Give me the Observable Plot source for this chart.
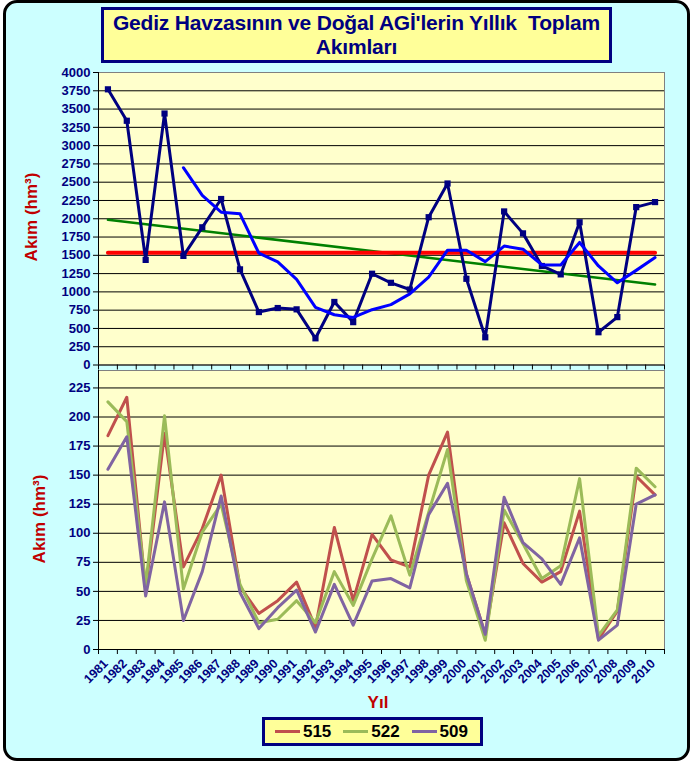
<!DOCTYPE html>
<html><head><meta charset="utf-8">
<script src="https://cdn.jsdelivr.net/npm/d3@7"></script>
<script src="https://cdn.jsdelivr.net/npm/@observablehq/plot@0.6"></script>
<style>
body{margin:0;background:#fff;font-family:Arial,"Liberation Sans",sans-serif;}
#page{position:relative;width:693px;height:764px;overflow:hidden;}
#frame{position:absolute;left:3px;top:0;width:687px;height:761px;box-sizing:border-box;border:3px solid #000;border-radius:14px;background:#CCFFFF;}
#title{position:absolute;left:101px;top:7px;width:511px;height:56px;box-sizing:border-box;border:3px solid #000080;background:#FFFF99;color:#000080;font-weight:bold;font-size:21px;text-align:center;line-height:24px;padding-top:1px;letter-spacing:-0.2px;}
.ytitle{position:absolute;color:#C00000;font-weight:bold;font-size:17px;transform:translate(-50%,-50%) rotate(-90deg);white-space:nowrap;}
#xtitle{position:absolute;left:378px;top:703px;transform:translate(-50%,-50%);color:#C00000;font-weight:bold;font-size:17px;}
#legend{position:absolute;left:262px;top:717px;width:221px;height:29px;box-sizing:border-box;border:3px solid #000080;background:#FFFF99;display:flex;align-items:center;padding-left:10px;}
#legend .sw{display:inline-block;width:27px;height:3px;margin-right:3px;}
#legend .lb{font-weight:bold;font-size:17px;color:#000;margin-right:12px;}
.chart{position:absolute;left:0;}
</style></head>
<body>
<div id="page">
  <div id="frame"></div>
  <div id="title">Gediz Havzasının ve Doğal AGİ'lerin Yıllık&nbsp; Toplam<br>Akımları</div>
  <div id="c1" class="chart" style="top:60px"></div>
  <div id="c2" class="chart" style="top:370px"></div>
  <div class="ytitle" style="left:32px;top:217px">Akım (hm³)</div>
  <div class="ytitle" style="left:40px;top:519px">Akım (hm³)</div>
  <div id="xtitle">Yıl</div>
  <div id="legend"></div>
</div>
<script>
// ---- data ----
const years = [1981,1982,1983,1984,1985,1986,1987,1988,1989,1990,1991,1992,1993,1994,1995,1996,1997,1998,1999,2000,2001,2002,2003,2004,2005,2006,2007,2008,2009,2010];
const akim = [3770,3340,1437,3439,1492,1883,2270,1308,724,779,761,365,862,586,1248,1124,1032,2021,2482,1179,379,2100,1800,1354,1239,1952,448,655,2159,2228];
const maYears = years.slice(4);
const hareketliOrt = [2698,2320,2090,2067,1529,1409,1170,788,687,650,756,825,972,1202,1570,1570,1414,1626,1584,1368,1368,1676,1354,1124,1294,1469];
const ortalama = 1535;
const trendUclar = [1985, 1100];
const s515 = [184,217,52,186,71,104,150,54,31,42,58,19,105,42,99,77,71,150,187,65,13,109,74,58,67,119,9,33,149,133];
const s522 = [213,196,55,201,52,101,125,56,23,26,42,23,67,38,78,115,64,118,172,59,8,120,91,61,72,147,12,34,156,140];
const s509 = [155,183,46,127,25,67,132,49,18,36,51,15,56,21,59,61,53,116,143,65,13,131,92,78,56,96,8,21,125,133];
const seriesNames = ["515","522","509"];
const seriesColors = ["#C0504D","#9BBB59","#8064A2"];
const yTicksTop = [0,250,500,750,1000,1250,1500,1750,2000,2250,2500,2750,3000,3250,3500,3750,4000];
const yTicksBottom = [0,25,50,75,100,125,150,175,200,225];

// ---- derived tables ----
const firstYear = years[0], lastYear = years[years.length-1];
const xDomain = [firstYear-0.5, lastYear+0.5];
const bounds = years.map(y => y-0.5).concat([lastYear+0.5]);
const akimData = years.map((x,i) => ({x, y: akim[i]}));
const maData = maYears.map((x,i) => ({x, y: hareketliOrt[i]}));
const ortData = [{x:firstYear, y:ortalama},{x:lastYear, y:ortalama}];
const trendData = [{x:firstYear, y:trendUclar[0]},{x:lastYear, y:trendUclar[1]}];
const allSeries = [s515,s522,s509];
const longData = allSeries.flatMap((s,k) => years.map((x,i) => ({x, y:s[i], seri:seriesNames[k]})));

const baseStyle = {background:"transparent", overflow:"visible", fontFamily:"Arial, 'Liberation Sans', sans-serif", fontWeight:"bold", fontSize:"13px", color:"#000080"};
const plain = d => String(d);

const chartTop = Plot.plot({
  width:693, height:310, marginLeft:98, marginRight:29, marginTop:12, marginBottom:5.5,
  x:{domain:xDomain, axis:null},
  y:{domain:[0,4000], axis:null},
  style: baseStyle,
  marks:[
    Plot.frame({fill:"#FFFFCC", stroke:"#808080"}),
    Plot.ruleY(yTicksTop.filter(d => d>0 && d<4000), {stroke:"#000", strokeWidth:1}),
    Plot.ruleX([xDomain[0]], {stroke:"#000"}),
    Plot.ruleY([0], {stroke:"#000"}),
    Plot.axisY({ticks:yTicksTop, tickSize:5, tickPadding:3, tickFormat:plain, label:null, stroke:"#000", fill:"#000080", fontSize:13}),
    Plot.axisX({ticks:bounds, tickSize:5, tickFormat:() => "", label:null, stroke:"#000"}),
    Plot.line(trendData, {x:"x", y:"y", stroke:"#008000", strokeWidth:2.5}),
    Plot.line(ortData, {x:"x", y:"y", stroke:"#FF0000", strokeWidth:4}),
    Plot.line(akimData, {x:"x", y:"y", stroke:"#000080", strokeWidth:3}),
    Plot.dot(akimData, {x:"x", y:"y", symbol:"square", fill:"#000080", r:3.5}),
    Plot.line(maData, {x:"x", y:"y", stroke:"#0000FF", strokeWidth:3})
  ]
});
document.getElementById("c1").appendChild(chartTop);

const chartBottom = Plot.plot({
  width:693, height:330, marginLeft:98, marginRight:29, marginTop:0, marginBottom:51,
  x:{domain:xDomain, axis:null},
  y:{domain:[0,240], axis:null},
  color:{domain:seriesNames, range:seriesColors},
  style: baseStyle,
  marks:[
    Plot.frame({fill:"#FFFFCC", stroke:"#808080"}),
    Plot.ruleY(yTicksBottom.filter(d => d>0), {stroke:"#000", strokeWidth:1}),
    Plot.ruleX([xDomain[0]], {stroke:"#000"}),
    Plot.ruleY([0], {stroke:"#000"}),
    Plot.axisY({ticks:yTicksBottom, tickSize:5, tickPadding:3, tickFormat:plain, label:null, stroke:"#000", fill:"#000080", fontSize:13}),
    Plot.axisX({ticks:bounds, tickSize:5, tickFormat:() => "", label:null, stroke:"#000"}),
    Plot.axisX({ticks:years, tickSize:0, tickPadding:12, tickRotate:-45, tickFormat:plain, label:null, fill:"#000080", fontSize:12.5, dx:-2}),
    Plot.line(longData, {x:"x", y:"y", z:"seri", stroke:"seri", strokeWidth:3})
  ]
});
document.getElementById("c2").appendChild(chartBottom);

// legend
const lg = document.getElementById("legend");
seriesNames.forEach((n,i) => {
  const sw = document.createElement("span"); sw.className = "sw"; sw.style.background = seriesColors[i];
  const lb = document.createElement("span"); lb.className = "lb"; lb.textContent = n;
  lg.appendChild(sw); lg.appendChild(lb);
});
</script>
</body></html>
